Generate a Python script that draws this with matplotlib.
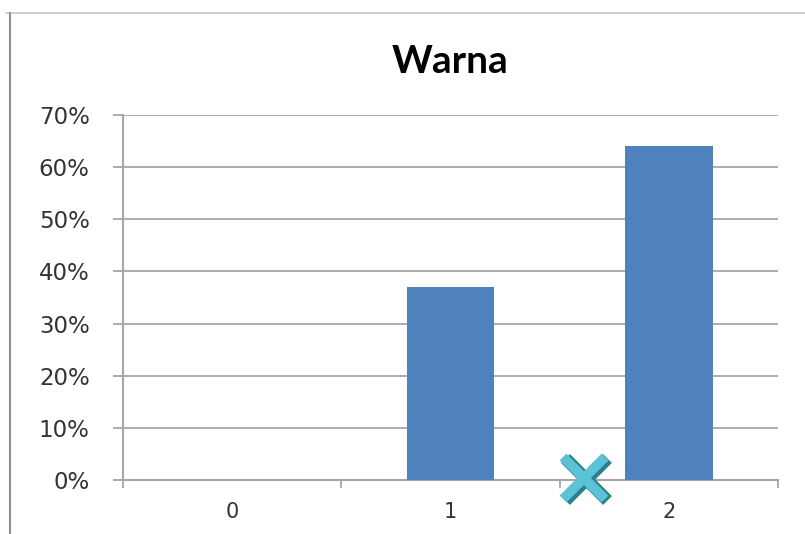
import matplotlib
matplotlib.use("Agg")
from matplotlib import pyplot as plt
from matplotlib.lines import Line2D
from matplotlib.ticker import FixedLocator, PercentFormatter

categories = ["0", "1", "2"]
shares = [0.0, 0.37, 0.64]
y_ticks = [0.0, 0.1, 0.2, 0.3, 0.4, 0.5, 0.6, 0.7]

grey = "#a6a6a6"
fig = plt.figure(figsize=(8.05, 5.34), dpi=100)
ax = fig.add_axes([0.1528, 0.1011, 0.8137, 0.6835])

xs = range(len(categories))
ax.bar(xs, shares, width=0.4, color="#4f81bd", zorder=3)

ax.set_xlim(-0.5, len(categories) - 0.5)
ax.set_ylim(0, 0.7)
ax.set_yticks(y_ticks)
ax.yaxis.set_major_formatter(PercentFormatter(1.0, decimals=0))
ax.set_xticks(list(xs))
ax.set_xticklabels(categories)
ax.xaxis.set_minor_locator(FixedLocator([i - 0.5 for i in range(len(categories) + 1)]))
ax.tick_params(axis="x", which="major", length=0, pad=16, labelsize=15, labelcolor="#333333")
ax.tick_params(axis="x", which="minor", length=6, width=1.3, color=grey)
ax.tick_params(axis="y", length=7, width=1.3, color=grey, pad=17, labelsize=16.5, labelcolor="#333333")

ax.grid(axis="y", color=grey, linewidth=1.3, zorder=0)
for side in ["top", "right"]:
    ax.spines[side].set_visible(False)
for side in ["left", "bottom"]:
    ax.spines[side].set_color(grey)
    ax.spines[side].set_linewidth(1.5)

ax.set_title("Warna", fontsize=28, fontweight="bold", family="Lato", pad=30)

# cross marker near the axis
ax.plot([1.622], [0.001], marker="x", markersize=30, mew=9, color="#2b7f93", zorder=5, clip_on=False)
ax.plot([1.61], [0.004], marker="x", markersize=30, mew=7, color="#5cc3d6", zorder=6, clip_on=False)

# frame lines of the slide
fig.add_artist(Line2D([6 / 805, 1.0], [1 - 13 / 534, 1 - 13 / 534], color="#c8c8c8", lw=1.2))
fig.add_artist(Line2D([10 / 805, 10 / 805], [0, 1 - 13 / 534], color="#909090", lw=1.5))

fig.savefig("out.png", dpi=100)
